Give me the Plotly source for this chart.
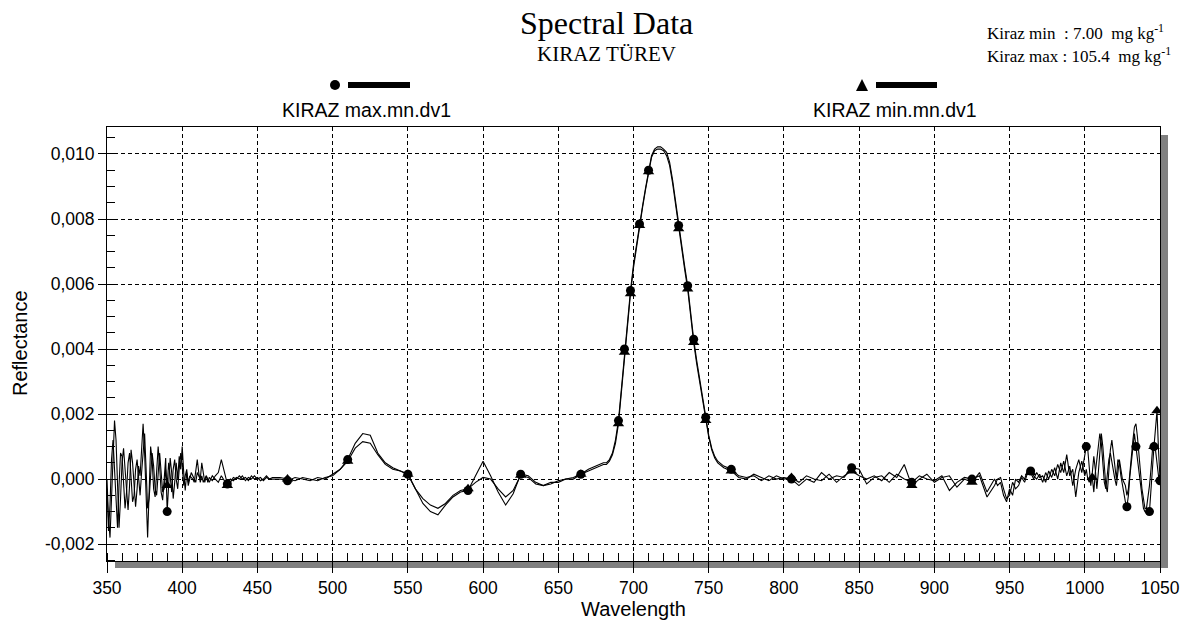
import plotly.graph_objects as go

# ---------------- data (reflectance values in units of 1e-3) ----------------
wl_350_420 = list(range(350, 421))
wl_422_460 = list(range(422, 461, 2))
wl_465_680 = list(range(465, 681, 5))
wl_682_756 = list(range(682, 757, 2))
wl_760_940 = list(range(760, 941, 5))
wl_942_1000 = list(range(942, 1001, 2))
wl_1001_1050 = list(range(1001, 1051))
wavelength = wl_350_420 + wl_422_460 + wl_465_680 + wl_682_756 + wl_760_940 + wl_942_1000 + wl_1001_1050

max_350_420 = [0.0, -1.2, -1.8, -0.5, 0.8, 1.8, 1.2, -0.3, -1.5, -0.6,
               0.5, 0.95, 0.3, -0.6, -0.95, -0.2, 0.9, 0.5, -0.4, -0.85,
               -0.3, 0.4, 0.1, 0.9, 1.7, 0.8, -0.6, -1.8, -0.4, 1.0,
               0.6, -0.3, -0.55, 0.2, 1.0, 0.4, -0.4, -0.65, 0.1, 0.65,
               -1.0, -0.2, 0.65, 0.2, -0.6, -0.1, 0.5, 0.0, 0.7, 0.3,
               1.0, 0.2, -0.35, 0.2, -0.1, 0.1, 0.05, 0.0, -0.1, 0.3,
               0.6, 0.2, -0.1, 0.1, -0.1, 0.0, 0.1, -0.1, 0.05, 0.0,
               -0.05]
min_350_420 = [-0.3, -1.6, -0.8, 0.6, 1.2, 0.3, -0.9, -1.5, -0.2, 0.8,
               0.7, -0.2, -0.9, -0.4, 0.5, 0.8, 0.1, -0.7, -0.5, 0.3,
               0.6, -0.1, -0.5, 0.2, 0.9, 1.4, 0.3, -0.9, -0.6, 0.3,
               0.8, 0.4, -0.3, -0.5, 0.3, 0.8, 0.2, -0.4, -0.3, 0.3,
               -0.2, 0.5, 0.1, -0.4, 0.3, 0.6, 0.0, -0.3, 0.3, 0.8,
               0.4, -0.2, 0.1, 0.3, -0.2, 0.0, 0.2, 0.1, 0.0, -0.1,
               0.2, 0.1, 0.0, 0.5, 0.2, -0.1, 0.1, 0.0, -0.1, 0.0,
               0.1]

max_422_460 = [0.1, 0.2, 0.6, 0.2, -0.15, 0.0, -0.05, 0.05, 0.0, 0.1,
               -0.05, 0.05, 0.0, 0.1, 0.0, 0.05, -0.05, 0.05, 0.0, 0.0]
min_422_460 = [0.0, -0.1, 0.1, -0.05, -0.2, -0.1, 0.05, 0.0, 0.1, 0.0,
               0.05, -0.05, 0.1, 0.0, 0.05, -0.05, 0.0, 0.1, 0.0, 0.05]

max_465_680 = [0.0, -0.05, 0.05, 0.0, -0.05, 0.05, 0.0, 0.15, 0.3, 0.6,
               1.1, 1.4, 1.35, 0.8, 0.5, 0.35, 0.25, 0.15, -0.3, -0.75,
               -1.0, -1.1, -0.8, -0.55, -0.4, -0.35, 0.1, 0.55, 0.1, -0.4,
               -0.8, -0.45, 0.15, 0.1, -0.1, -0.2, -0.15, -0.05, 0.0, 0.05,
               0.15, 0.3, 0.4, 0.5]
min_465_680 = [0.05, 0.0, -0.05, 0.05, 0.0, -0.05, 0.05, 0.1, 0.3, 0.55,
               0.95, 1.15, 1.1, 0.75, 0.45, 0.3, 0.25, 0.15, -0.3, -0.6,
               -0.8, -0.9, -0.75, -0.5, -0.35, -0.3, -0.1, 0.05, 0.0, -0.3,
               -0.55, -0.35, 0.12, 0.05, -0.15, -0.2, -0.1, -0.1, 0.0, 0.0,
               0.15, 0.25, 0.35, 0.45]

max_682_756 = [0.5, 0.6, 0.8, 1.2, 1.8, 2.8, 4.0, 4.9, 5.8, 6.6,
               7.25, 7.85, 8.4, 8.95, 9.5, 9.95, 10.15, 10.22, 10.22, 10.15,
               10.05, 9.75, 9.2, 8.5, 7.8, 7.15, 6.55, 5.95, 5.1, 4.3,
               3.65, 3.05, 2.5, 1.9, 1.35, 0.95, 0.7, 0.55]
min_682_756 = [0.45, 0.55, 0.75, 1.1, 1.7, 2.7, 3.9, 4.8, 5.7, 6.5,
               7.15, 7.8, 8.35, 8.9, 9.45, 9.9, 10.1, 10.15, 10.15, 10.1,
               9.95, 9.65, 9.1, 8.4, 7.7, 7.05, 6.45, 5.85, 5.0, 4.2,
               3.55, 2.95, 2.4, 1.8, 1.3, 0.9, 0.65, 0.5]

max_760_940 = [0.4, 0.3, 0.1, 0.05, 0.1, -0.05, 0.1, 0.0, 0.05, 0.0,
               -0.2, 0.0, -0.1, 0.2, 0.0, 0.1, 0.05, 0.35, 0.3, -0.15,
               0.05, 0.1, -0.1, 0.15, 0.0, -0.1, 0.1, 0.0, -0.05, 0.1,
               -0.35, -0.1, 0.05, 0.0, 0.1, -0.55, -0.2]
min_760_940 = [0.35, 0.25, 0.05, 0.0, 0.15, 0.05, -0.05, 0.1, 0.0, 0.05,
               -0.1, 0.1, 0.0, -0.05, 0.15, -0.1, 0.1, 0.25, 0.1, 0.0,
               0.1, -0.05, 0.2, 0.05, 0.45, -0.2, 0.0, 0.15, -0.1, 0.05,
               0.1, -0.25, 0.0, -0.1, 0.2, -0.4, 0.0]

max_942_1000 = [0.0, 0.05, -0.3, -0.6, -0.5, -0.1, -0.3, -0.2, 0.05, -0.1,
                0.2, 0.25, 0.1, 0.0, 0.15, -0.1, 0.2, 0.0, 0.3, 0.1,
                0.45, 0.2, 0.55, 0.1, 0.4, -0.2, 0.3, 0.6, 0.2, 0.7]
min_942_1000 = [-0.2, -0.1, -0.5, -0.7, -0.3, -0.5, 0.0, -0.1, 0.1, 0.0,
                0.3, 0.2, 0.0, 0.2, 0.05, 0.1, -0.1, 0.25, 0.05, 0.35,
                0.0, 0.5, 0.2, 0.75, 0.1, 0.3, -0.55, 0.2, 0.55, 0.1]

max_1001_1050 = [1.0, 0.9, 0.3, -0.2, 0.2, 0.7, 0.3, -0.3, 0.2, 0.9,
                 1.4, 1.0, 0.3, -0.2, -0.4, 0.3, 0.9, 1.2, 0.8, 0.4,
                 0.0, 0.6, 0.5, 0.1, -0.2, -0.4, -0.7, -0.85, -0.5, 0.1,
                 0.6, 1.0, 1.4, 1.0, 0.6, 0.2, -0.3, -0.6, -0.9, -1.0,
                 -1.05, -1.1, -1.0, -0.4, 0.4, 1.0, 0.9, 0.5, 0.1, -0.05]
min_1001_1050 = [0.3, 0.0, -0.1, 0.1, 0.05, -0.4, 0.2, 0.6, 1.0, 1.4,
                 1.1, 0.5, -0.1, -0.3, 0.1, 0.6, 0.8, 0.5, 0.2, 0.0,
                 -0.2, 0.2, 0.6, 0.3, 0.0, -0.1, -0.2, -0.5, -0.3, 0.2,
                 0.8, 1.2, 1.6, 1.7, 1.3, 0.7, 0.1, -0.3, -0.6, -0.9,
                 -0.9, -0.6, -0.2, 0.3, 0.9, 1.0, 1.5, 2.1, 0.9, 0.0]

kiraz_max_e3 = (max_350_420 + max_422_460 + max_465_680 + max_682_756
                + max_760_940 + max_942_1000 + max_1001_1050)
kiraz_min_e3 = (min_350_420 + min_422_460 + min_465_680 + min_682_756
                + min_760_940 + min_942_1000 + min_1001_1050)
assert len(kiraz_max_e3) == len(wavelength) == len(kiraz_min_e3)

kiraz_max = [v * 1e-3 for v in kiraz_max_e3]
kiraz_min = [v * 1e-3 for v in kiraz_min_e3]

# wavelengths at which the software placed its symbols
marker_wl_max = [390, 430, 470, 510, 550, 590, 625, 665, 690, 694, 698, 704, 710,
                 730, 736, 740, 748, 765, 805, 845, 885, 925, 964, 1001, 1028,
                 1034, 1043, 1046, 1050]
marker_wl_min = [390, 430, 470, 510, 550, 590, 625, 665, 690, 694, 698, 704, 710,
                 730, 736, 740, 748, 765, 805, 845, 885, 925, 964, 1005, 1046,
                 1048, 1050]

y_tick_vals = [-0.002, 0.0, 0.002, 0.004, 0.006, 0.008, 0.010]
y_tick_text = ["-0,002", "0,000", "0,002", "0,004", "0,006", "0,008", "0,010"]

name_max = "KIRAZ max.mn.dv1"
name_min = "KIRAZ min.mn.dv1"

# ---------------- figure ----------------
W, H = 1192, 625
L, R, T, B = 107, 1160, 127, 561
PW, PH = R - L, B - T


def px(x):
    return (x - L) / PW


def py(y):
    return (B - y) / PH


lookup_max = dict(zip(wavelength, kiraz_max))
lookup_min = dict(zip(wavelength, kiraz_min))

fig = go.Figure()
fig.add_trace(go.Scatter(x=wavelength, y=kiraz_max, mode="lines", name=name_max,
                         line=dict(color="black", width=1.1), showlegend=False))
fig.add_trace(go.Scatter(x=wavelength, y=kiraz_min, mode="lines", name=name_min,
                         line=dict(color="black", width=1.1), showlegend=False))
fig.add_trace(go.Scatter(x=marker_wl_max, y=[lookup_max[w] for w in marker_wl_max],
                         mode="markers", showlegend=False,
                         marker=dict(symbol="circle", size=9, color="black")))
fig.add_trace(go.Scatter(x=marker_wl_min, y=[lookup_min[w] for w in marker_wl_min],
                         mode="markers", showlegend=False,
                         marker=dict(symbol="triangle-up", size=10, color="black")))

axis_font = dict(family="Arial, Liberation Sans, sans-serif", size=17.5, color="black")

fig.update_xaxes(range=[350, 1050], tickmode="linear", tick0=350, dtick=50,
                 ticks="outside", ticklen=11, tickcolor="black", tickwidth=1,
                 showline=True, linecolor="black", linewidth=1, mirror=True,
                 showgrid=True, gridcolor="black", gridwidth=1, griddash="4px,3px",
                 zeroline=False, tickfont=axis_font, automargin=False,
                 minor=dict(tickmode="linear", tick0=350, dtick=10, ticks="inside",
                            ticklen=8, tickcolor="black", showgrid=False))
fig.update_yaxes(range=[-0.00252, 0.01083], tickmode="array",
                 tickvals=y_tick_vals, ticktext=y_tick_text,
                 ticks="outside", ticklen=8, tickcolor="black", tickwidth=1,
                 showline=True, linecolor="black", linewidth=1, mirror=True,
                 showgrid=True, gridcolor="black", gridwidth=1, griddash="4px,3px",
                 zeroline=False, tickfont=axis_font, automargin=False,
                 minor=dict(tickmode="linear", tick0=0, dtick=0.0005, ticks="inside",
                            ticklen=8, tickcolor="black", showgrid=False))

shapes = [
    # drop shadows of the plot frame
    dict(type="rect", xref="paper", yref="paper", x0=px(1161), x1=px(1168),
         y0=py(568), y1=py(135), fillcolor="#808080", line=dict(width=0), layer="below"),
    dict(type="rect", xref="paper", yref="paper", x0=px(115), x1=px(1168),
         y0=py(568), y1=py(562), fillcolor="#808080", line=dict(width=0), layer="below"),
    # legend symbols
    dict(type="circle", xref="paper", yref="paper", x0=px(330), x1=px(340),
         y0=py(90), y1=py(80), fillcolor="black", line=dict(width=0)),
    dict(type="rect", xref="paper", yref="paper", x0=px(348), x1=px(410),
         y0=py(88), y1=py(82), fillcolor="black", line=dict(width=0)),
    dict(type="path", xref="paper", yref="paper",
         path=f"M {px(856)} {py(91)} L {px(868)} {py(91)} L {px(862)} {py(79)} Z",
         fillcolor="black", line=dict(width=0)),
    dict(type="rect", xref="paper", yref="paper", x0=px(876), x1=px(937),
         y0=py(88), y1=py(82), fillcolor="black", line=dict(width=0)),
]

serif = "Times New Roman, Liberation Serif, serif"
sans = "Arial, Liberation Sans, sans-serif"
annotations = [
    dict(text="Spectral Data", x=px(606), y=py(23), font=dict(family=serif, size=32)),
    dict(text="KIRAZ TÜREV", x=px(606), y=py(54), font=dict(family=serif, size=21)),
    dict(text="Kiraz min  : 7.00  mg kg<sup>-1</sup>", x=px(985), y=py(32),
         xanchor="left", font=dict(family=serif, size=17)),
    dict(text="Kiraz max : 105.4  mg kg<sup>-1</sup>", x=px(985), y=py(55),
         xanchor="left", font=dict(family=serif, size=17)),
    dict(text=name_max, x=px(366), y=py(110), font=dict(family=sans, size=19.5)),
    dict(text=name_min, x=px(895), y=py(110), font=dict(family=sans, size=19.5)),
    dict(text="Wavelength", x=px(633), y=py(609), font=dict(family=sans, size=20)),
    dict(text="Reflectance", x=px(20), y=py(343), textangle=-90,
         font=dict(family=sans, size=20)),
]
for a in annotations:
    a.setdefault("xanchor", "center")
    a.update(xref="paper", yref="paper", yanchor="middle", showarrow=False)
    a["font"]["color"] = "black"

fig.update_layout(width=W, height=H, margin=dict(l=L, r=W - R, t=T, b=H - B, pad=0),
                  paper_bgcolor="white", plot_bgcolor="white",
                  shapes=shapes, annotations=annotations, showlegend=False)

fig.write_html("out.html")
